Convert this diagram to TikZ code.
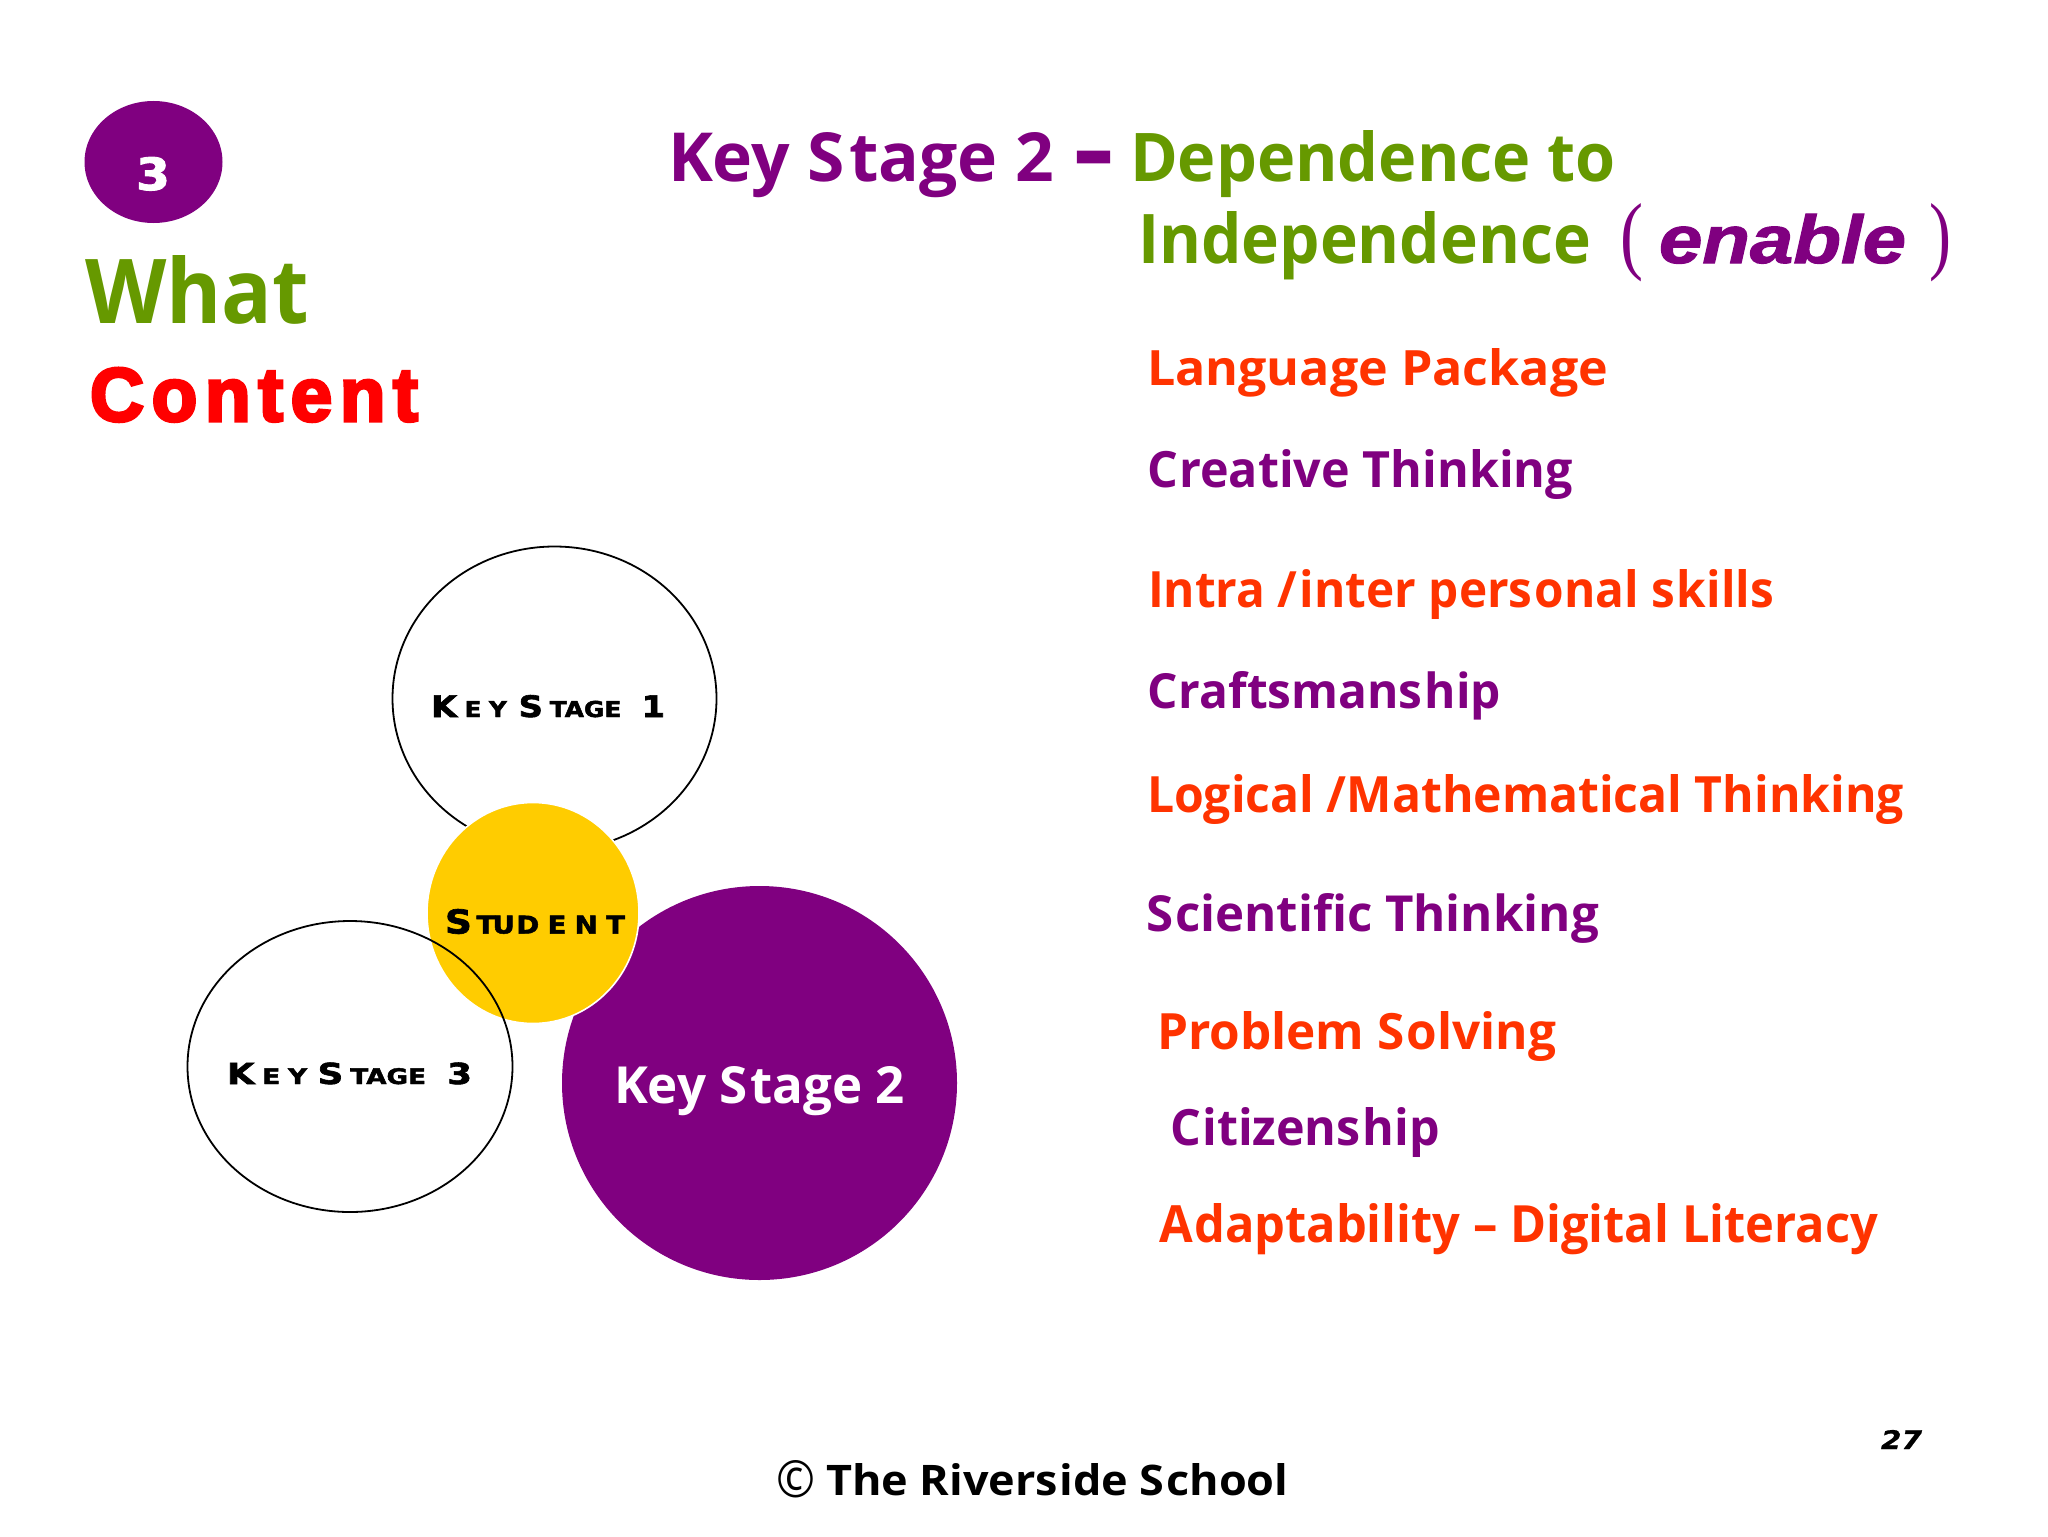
\documentclass[tikz,border=0pt]{standalone}
\usepackage{graphicx}
\usepackage{fontspec}
\usetikzlibrary{shapes.geometric}
\setmainfont{Open Sans}
\newfontfamily\bodyf{Open Sans}
\newfontfamily\dashf{Open Sans}[BoldFeatures={FakeBold=3}]
\newfontfamily\heavyf{Liberation Sans}[BoldFeatures={FakeBold=4}]
\newfontfamily\italf{Liberation Sans}[BoldItalicFeatures={FakeBold=1.5}]
\newfontfamily\thinf{Liberation Serif}
\newfontfamily\widef{DejaVu Sans}[BoldFeatures={FakeBold=2}]
\newfontfamily\wideob{DejaVu Sans}[BoldItalicFeatures={FakeBold=1}]
\definecolor{pur}{HTML}{800080}
\definecolor{grn}{HTML}{669900}
\definecolor{org}{HTML}{FF3300}
\definecolor{rd}{HTML}{FF0000}
\definecolor{yel}{HTML}{FFCC00}
\newlength\px \setlength\px{0.5pt}
\newcommand\fitbox[3]{\resizebox{#1\px}{#2\px}{#3}}
\newcommand\lowc[1]{{\fontsize{7.4}{9}\selectfont #1}}
\newcommand\Bd[1]{{\bodyf\bfseries #1}}
\tikzset{
  txt/.style={anchor=base west,inner sep=0pt,outer sep=0pt},
  blob/.style={ellipse,inner sep=0pt,outer sep=0pt},
  ringed/.style={blob,draw=black,line width=0.9pt},
}
\begin{document}
\begin{tikzpicture}[x=0.5pt,y=-0.5pt]
\useasboundingbox[fill=white] (0,0) rectangle (2048,1536);
% shapes
\node[blob,fill=pur,minimum width=138*0.5pt,minimum height=122*0.5pt] (num) at (153.5,162) {};
\node[ringed,minimum width=324*0.5pt,minimum height=304*0.5pt] (ksone) at (554.5,698.5) {};
\node[blob,fill=pur,minimum width=395*0.5pt,minimum height=394*0.5pt] (kstwo) at (759.5,1083) {};
\node[blob,fill=yel,draw=white,line width=0.8pt,minimum width=212*0.5pt,minimum height=221*0.5pt] (stu) at (533,913) {};
\node[ringed,minimum width=325*0.5pt,minimum height=291*0.5pt] (ksthree) at (350,1066.5) {};
% number and side titles
\node[txt,text=white] (numt) at (136,190) {\fitbox{34}{33}{\widef\bfseries 3}};
\node[txt,text=grn] (what) at (85,323) {\fitbox{224}{68}{\Bd{What}}};
\node[txt,text=rd] (cont) at (90,421) {\fitbox{328}{53}{\heavyf\bfseries C\kern.1em o\kern.1em n\kern.1em t\kern.1em e\kern.1em n\kern.1em t}};
% heading
\node[txt,text=pur] (headA) at (668,181) {\fitbox{386}{49}{\Bd{Key S\kern.06em tage 2}}};
\node[txt,text=pur] (headB) at (1075,181) {\fitbox{37}{29}{\dashf\bfseries –}};
\node[txt,text=grn] (headC) at (1130,181) {\fitbox{486}{51}{\Bd{Dependence to}}};
\node[txt,text=grn] (indep) at (1138,263.5) {\fitbox{453}{52}{\Bd{Independence}}};
\node[txt,text=pur] (lp) at (1620,263) {\fitbox{23}{60}{\thinf (}};
\node[txt,text=pur] (enab) at (1659,263) {\fitbox{247}{49}{\italf\bfseries\itshape enable}};
\node[txt,text=pur] (rp) at (1929,263) {\fitbox{22}{60}{\thinf )}};
% list
\node[txt,text=org] (i1) at (1147,385.5) {\fitbox{461}{37}{\Bd{Language Package}}};
\node[txt,text=pur] (i2) at (1147,487) {\fitbox{426}{38}{\Bd{C\kern.03em reative Thinking}}};
\node[txt,text=org] (i3) at (1148,607) {\fitbox{626}{38}{\Bd{Intra /\kern.05em inter pers\kern.04em onal s\kern.04em kills}}};
\node[txt,text=pur] (i4) at (1147,708.5) {\fitbox{354}{37}{\Bd{C\kern.03em raftsmans\kern.04em hip}}};
\node[txt,text=org] (i5) at (1147,812) {\fitbox{757}{38}{\Bd{Logical /Mathematical Thinking}}};
\node[txt,text=pur] (i6) at (1146,931) {\fitbox{453}{38}{\Bd{S\kern.04em cientific Thinking}}};
\node[txt,text=org] (i7) at (1157,1049) {\fitbox{399}{38}{\Bd{Problem S\kern.04em olving}}};
\node[txt,text=pur] (i8) at (1170,1145) {\fitbox{270}{38}{\Bd{C\kern.03em itizens\kern.04em hip}}};
\node[txt,text=org] (i9) at (1159,1242) {\fitbox{719}{39}{\Bd{A\kern.03em daptability – Digital Literacy}}};
% circle labels
\node[txt] (l1) at (431,717) {\fitbox{234}{22}{\widef\bfseries K\kern.22em\lowc{E}\kern.22em\lowc{Y}\kern.35em S\kern.2em\lowc{TAGE}\kern.6em 1}};
\node[txt,text=white] (l2) at (614,1103.5) {\fitbox{291}{37}{\Bd{Key S\kern.06em tage 2}}};
\node[txt] (l3) at (227,1084) {\fitbox{245}{21.5}{\widef\bfseries K\kern.22em\lowc{E}\kern.22em\lowc{Y}\kern.3em S\kern.2em\lowc{TAGE}\kern.6em 3}};
\node[txt] (l4) at (445,933.5) {\fitbox{180}{24.5}{\widef\bfseries S\kern.12em\lowc{T\kern-.1em U\kern.05em D\kern.3em E\kern.3em N\kern.3em T}}};
% footer
\node[txt] (copyr) at (776,1497) {\fitbox{39}{37}{\bodyf ©}};
\node[txt] (foot) at (826,1495) {\fitbox{462.5}{32}{\Bd{The Rivers\kern.03em ide S\kern.04em chool}}};
\node[txt] (page) at (1881,1449) {\fitbox{41}{19}{\wideob\bfseries\itshape 27}};
\end{tikzpicture}
\end{document}
